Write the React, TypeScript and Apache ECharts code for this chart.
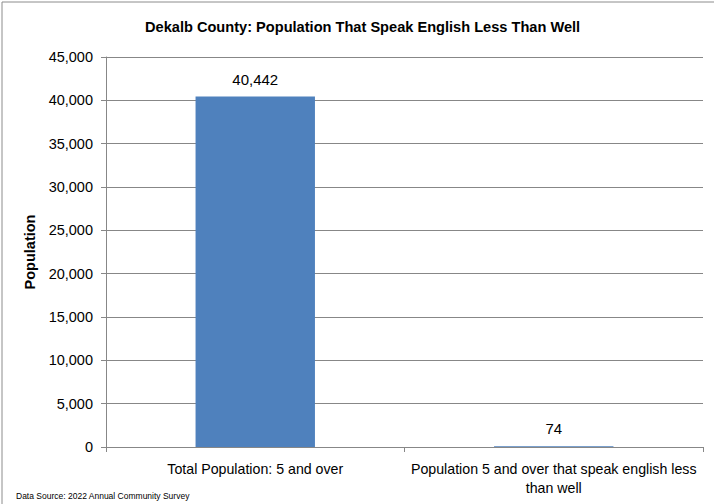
import React, { useEffect, useRef } from "react";
import * as echarts from "echarts";

const categories = [
  "Total Population: 5 and over",
  "Population 5 and over that speak english less\nthan well",
];
const values = [40442, 74];
const titleText = "Dekalb County: Population That Speak English Less Than Well";
const yAxisName = "Population";
const sourceText = "Data Source: 2022 Annual Community Survey";

const FONT = "'Liberation Sans', Arial, sans-serif";

export default function App() {
  const ref = useRef<HTMLDivElement>(null);
  useEffect(() => {
    if (!ref.current) return;
    const chart = echarts.init(ref.current, null, { renderer: "svg" });
    chart.setOption({
      animation: false,
      backgroundColor: "#ffffff",
      title: {
        text: titleText,
        left: 140,
        top: 14,
        textStyle: { fontFamily: FONT, fontSize: 14.6, fontWeight: "bold", color: "#000" },
      },
      grid: { left: 106, right: 11, top: 57, bottom: 57, containLabel: false },
      xAxis: {
        type: "category",
        data: categories,
        axisLine: { lineStyle: { color: "#878787" } },
        axisTick: { show: true, alignWithLabel: false, length: 5, lineStyle: { color: "#878787" } },
        axisLabel: {
          fontFamily: FONT,
          fontSize: 14.2,
          color: "#000",
          margin: 12,
          lineHeight: 19,
          interval: 0,
        },
      },
      yAxis: {
        type: "value",
        min: 0,
        max: 45000,
        interval: 5000,
        name: yAxisName,
        nameLocation: "middle",
        nameGap: 63,
        nameTextStyle: { fontFamily: FONT, fontSize: 14.5, fontWeight: "bold", color: "#000" },
        axisLine: { show: true, lineStyle: { color: "#878787" } },
        axisTick: { show: true, inside: false, length: 5, lineStyle: { color: "#878787" } },
        axisLabel: {
          fontFamily: FONT,
          fontSize: 14.5,
          color: "#000",
          margin: 13,
          formatter: (v: number) => v.toLocaleString("en-US"),
        },
        splitLine: { lineStyle: { color: "#878787", width: 1 } },
      },
      series: [
        {
          type: "bar",
          data: values,
          barWidth: "40%",
          itemStyle: { color: "#4F81BD" },
          label: {
            show: true,
            position: "top",
            distance: 10,
            fontFamily: FONT,
            fontSize: 15,
            color: "#000",
            formatter: (p: any) => Number(p.value).toLocaleString("en-US"),
          },
        },
      ],
      graphic: [
        {
          type: "rect",
          shape: { x: 2, y: 2, width: 800, height: 600 },
          style: { fill: "none", stroke: "#8c8c8c", lineWidth: 1 },
          silent: true,
        },
        {
          type: "text",
          left: 16,
          top: 491,
          style: { text: sourceText, fontFamily: FONT, fontSize: 8.5, fill: "#000" },
        },
      ],
    });
    return () => chart.dispose();
  }, []);
  return (
    <div
      ref={ref}
      style={{ position: "absolute", left: 0, top: 0, width: 714, height: 504 }}
    />
  );
}
